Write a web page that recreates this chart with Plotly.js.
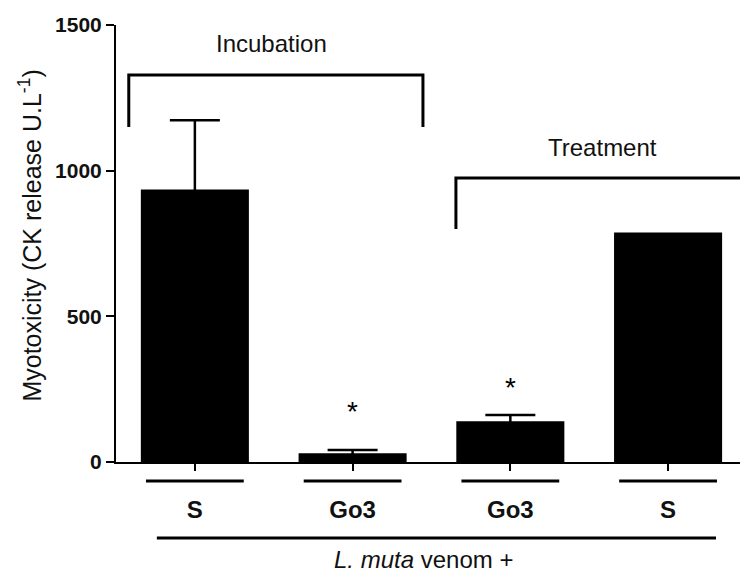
<!DOCTYPE html>
<html>
<head>
<meta charset="utf-8">
<script src="https://cdn.plot.ly/plotly-3.0.1.min.js"></script>
<style>html,body{margin:0;padding:0;background:#fff;}#chart{width:740px;height:572px;}</style>
</head>
<body>
<div id="chart"></div>
<script>
// ---- data ----
const categories = ["S", "Go3", "Go3", "S"];
const values = [935, 30, 140, 788];
const errors = [238, 11, 21, NaN];   // last bar has no error bar
const significant = [false, true, true, false];
const yTicks = [0, 500, 1000, 1500];
const groupLabels = ["Incubation", "Treatment"];
const xTitle = "<i>L. muta</i> venom +";
const yTitle = "Myotoxicity (CK release U.L<sup>-1</sup>)";

const xs = categories.map((_, i) => i);
const FONT = "Liberation Sans, Arial, sans-serif";

const trace = {
  type: "bar",
  x: xs,
  y: values,
  width: 0.685,
  marker: {color: "#000", line: {width: 0}},
  error_y: {type: "data", array: errors, symmetric: true, visible: true, color: "#000", thickness: 2.5, width: 25},
  hoverinfo: "none"
};

const shapes = [];
const lineStyle = {color: "#000", width: 3};
// category underline bars
xs.forEach(i => {
  shapes.push({type: "line", xref: "x", yref: "paper", x0: i - 0.31, x1: i + 0.31, y0: -0.0435, y1: -0.0435, line: lineStyle});
});
// long underline
shapes.push({type: "line", xref: "x", yref: "paper", x0: -0.241, x1: 3.304, y0: -0.174, y1: -0.174, line: lineStyle});
// Incubation bracket
shapes.push({type: "path", xref: "x", yref: "y", path: "M -0.419 1150 L -0.419 1328 L 1.446 1328 L 1.446 1150", line: lineStyle});
// Treatment bracket
shapes.push({type: "path", xref: "x", yref: "y", path: "M 1.655 800 L 1.655 975 L 3.6 975", line: lineStyle});

const annotations = [];
const starShift = [0, 21, 10, 0];
xs.forEach(i => {
  if (significant[i]) {
    annotations.push({x: i, y: values[i] + errors[i], xref: "x", yref: "y", text: "*", showarrow: false,
      yanchor: "bottom", yshift: starShift[i], font: {family: FONT, size: 28, color: "#000"}});
  }
});
annotations.push({x: 0.488, y: 1438, xref: "x", yref: "y", text: groupLabels[0], showarrow: false,
  font: {family: FONT, size: 24, color: "#111"}});
annotations.push({x: 2.587, y: 1081, xref: "x", yref: "y", text: groupLabels[1], showarrow: false,
  font: {family: FONT, size: 24, color: "#111"}});
annotations.push({x: 1.45, y: -0.259, xref: "x", yref: "paper", text: xTitle, showarrow: false,
  font: {family: FONT, size: 24, color: "#111"}});
// y-axis title
annotations.push({x: -0.137, y: 0.517, xref: "paper", yref: "paper", text: yTitle, textangle: -90,
  xanchor: "center", yanchor: "middle", showarrow: false,
  font: {family: FONT, size: 25, color: "#111"}});

const layout = {
  width: 740, height: 572,
  margin: {l: 116, r: 0, t: 25, b: 110, pad: 0},
  paper_bgcolor: "#fff", plot_bgcolor: "#fff",
  showlegend: false,
  xaxis: {
    range: [-0.5, 3.456],
    tickvals: xs, ticktext: categories,
    ticks: "outside", ticklen: 7, tickwidth: 2, tickcolor: "#000",
    ticklabelstandoff: 18,
    tickfont: {family: FONT, size: 24, color: "#111", weight: "bold"},
    showline: true, linecolor: "#000", linewidth: 2,
    showgrid: false, zeroline: false, fixedrange: true
  },
  yaxis: {
    range: [0, 1500],
    tickvals: yTicks,
    ticks: "outside", ticklen: 8, tickwidth: 2, tickcolor: "#000",
    tickfont: {family: FONT, size: 21, color: "#111", weight: "bold"},
    showline: true, linecolor: "#000", linewidth: 2,
    showgrid: false, zeroline: false, fixedrange: true
  },
  shapes: shapes,
  annotations: annotations,
  font: {family: FONT}
};

Plotly.newPlot("chart", [trace], layout, {displayModeBar: false, staticPlot: true});
</script>
</body>
</html>
